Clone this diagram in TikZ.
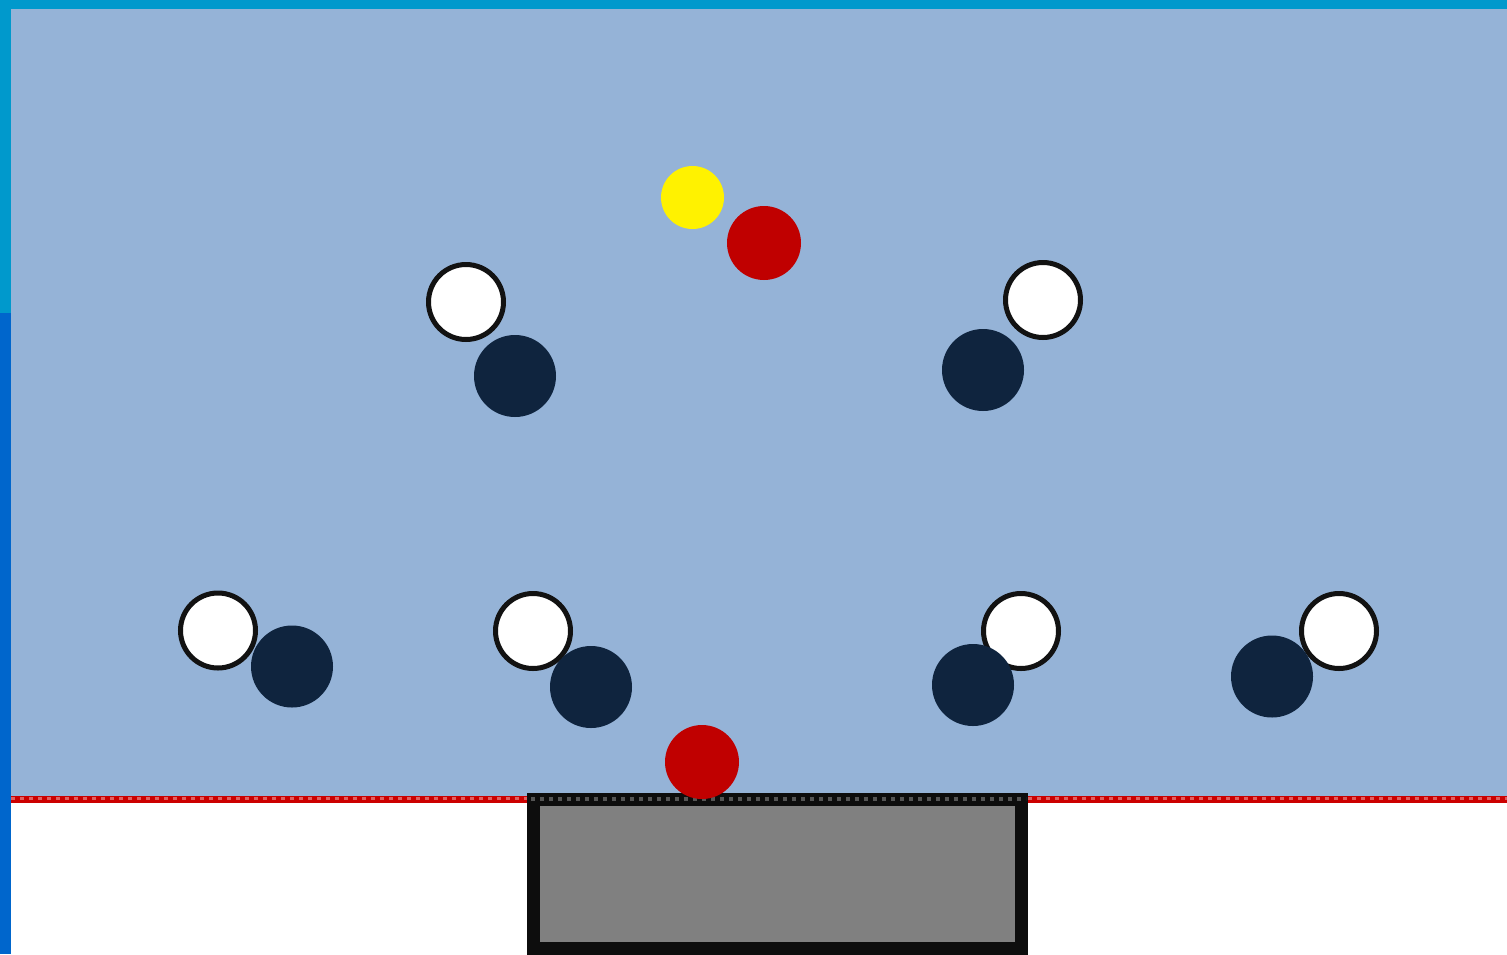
\documentclass[tikz,border=0pt]{standalone}
\definecolor{field}{HTML}{95B3D7}
\definecolor{topbar}{HTML}{0099CC}
\definecolor{leftblue}{HTML}{0066CC}
\definecolor{navy}{HTML}{0F243E}
\definecolor{redball}{HTML}{C00000}
\definecolor{goalline}{HTML}{CC0000}
\definecolor{goallinedash}{HTML}{E06060}
\definecolor{goalfill}{HTML}{808080}
\definecolor{dotgray}{HTML}{555555}
\begin{document}
\begin{tikzpicture}[x=1pt,y=-1pt,
  whiteplayer/.style={circle, draw=black!93, line width=5pt, fill=white, minimum size=75pt, inner sep=0pt, outer sep=0pt},
  darkplayer/.style={circle, fill=navy, minimum size=82pt, inner sep=0pt, outer sep=0pt},
  redplayer/.style={circle, fill=redball, minimum size=74pt, inner sep=0pt, outer sep=0pt},
  ballnode/.style={circle, fill=yellow, minimum size=63pt, inner sep=0pt, outer sep=0pt}]
\useasboundingbox (0,0) rectangle (1507,954);
\fill[white] (0,0) rectangle (1507,954);
\fill[field] (11,9) rectangle (1507,800);
\fill[topbar] (0,0) rectangle (1507,9);
\fill[topbar] (0,0) rectangle (11,313);
\fill[leftblue] (0,313) rectangle (11,954);
% goal line
\draw[goalline, line width=7pt] (11,799.5) -- (1507,799.5);
\draw[goallinedash, line width=3pt, dash pattern=on 4pt off 5pt] (11,798) -- (1507,798);
% goal
\draw[black!95, line width=13pt, fill=goalfill] (533.5,799.5) rectangle (1021.5,948.5);
\draw[dotgray, line width=3.5pt, dash pattern=on 3.5pt off 5.5pt] (531,799) -- (1026,799);
% white players
\node[whiteplayer] (w1) at (466,302) {};
\node[whiteplayer] (w2) at (1043,300) {};
\node[whiteplayer] (w3) at (218,630.5) {};
\node[whiteplayer] (w4) at (533,631) {};
\node[whiteplayer] (w5) at (1021,631) {};
\node[whiteplayer] (w6) at (1339,631) {};
% dark players
\node[darkplayer] (d1) at (515,376) {};
\node[darkplayer] (d2) at (983,370) {};
\node[darkplayer] (d3) at (292,666.5) {};
\node[darkplayer] (d4) at (591,687) {};
\node[darkplayer] (d5) at (973,685) {};
\node[darkplayer] (d6) at (1272,676.5) {};
% red players
\node[redplayer] (r1) at (764,243) {};
\node[redplayer] (r2) at (702,762) {};
% ball
\node[ballnode] (ball) at (692.5,197.5) {};
\end{tikzpicture}
\end{document}
